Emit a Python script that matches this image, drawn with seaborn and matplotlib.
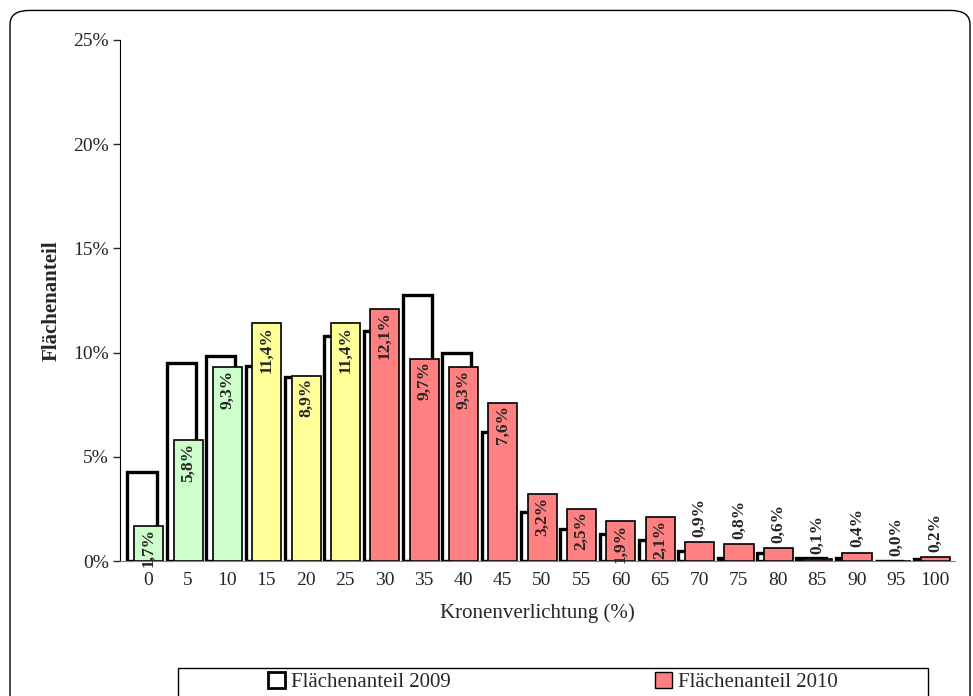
import numpy as np
import pandas as pd
import seaborn as sns
import matplotlib.pyplot as plt
from matplotlib.patches import FancyBboxPatch, Patch, Rectangle

categories = [str(v) for v in range(0, 101, 5)]
anteil_2009 = [4.25, 9.5, 9.85, 9.35, 8.85, 10.8, 11.05, 12.75, 10.0, 6.2, 2.35, 1.55,
               1.3, 1.0, 0.5, 0.15, 0.4, 0.15, 0.15, 0.0, 0.1]
anteil_2010 = [1.7, 5.8, 9.3, 11.4, 8.9, 11.4, 12.1, 9.7, 9.3, 7.6, 3.2, 2.5,
               1.9, 2.1, 0.9, 0.8, 0.6, 0.1, 0.4, 0.0, 0.2]
labels_2010 = ["1,7%", "5,8%", "9,3%", "11,4%", "8,9%", "11,4%", "12,1%", "9,7%", "9,3%",
               "7,6%", "3,2%", "2,5%", "1,9%", "2,1%", "0,9%", "0,8%", "0,6%", "0,1%",
               "0,4%", "0,0%", "0,2%"]

def stage_color(c):
    v = int(c)
    if v <= 10:
        return "#ccffcc"
    if v <= 25:
        return "#ffff99"
    return "#ff8080"

sns.set_style("white")
plt.rcParams['font.family'] = ['Liberation Serif', 'DejaVu Serif']

df = pd.DataFrame({"Klasse": categories, "y2009": anteil_2009, "y2010": anteil_2010})

fig = plt.figure(figsize=(9.73, 6.96), dpi=100)
ax = fig.add_axes([120 / 973, 1 - 561 / 696, 835 / 973, 521 / 696])

w = 0.74
sns.barplot(data=df, x="Klasse", y="y2009", color="white", edgecolor="black",
            linewidth=2.4, width=w, ax=ax, saturation=1)
n = len(categories)
for p in ax.patches[:n]:
    p.set_x(p.get_x() - 0.16)
sns.barplot(data=df, x="Klasse", y="y2010", hue="Klasse",
            palette=[stage_color(c) for c in categories], edgecolor="black",
            linewidth=1.2, width=w, ax=ax, saturation=1, legend=False)
bars10 = ax.patches[n:]
for p in bars10:
    p.set_x(p.get_x() + 0.01)

for p, lab, v in zip(bars10, labels_2010, anteil_2010):
    cx = p.get_x() + p.get_width() / 2
    if v >= 1.5:
        ax.text(cx, v - 0.12, lab, rotation=90, ha="center", va="top",
                fontsize=12.5, fontweight="bold")
    else:
        ax.text(cx, v + 0.25, lab, rotation=90, ha="center", va="bottom",
                fontsize=12.5, fontweight="bold")

ax.set_ylim(0, 25)
ax.set_xlim(-0.72, n - 0.5)
ax.set_yticks([0, 5, 10, 15, 20, 25])
ax.set_yticklabels([f"{t}%" for t in [0, 5, 10, 15, 20, 25]], fontsize=14)
ax.tick_params(axis="x", labelsize=14, length=0, pad=8)
ax.tick_params(axis="y", direction="out", length=5, width=1, left=True, pad=3)
ax.set_xlabel("Kronenverlichtung (%)", fontsize=15, labelpad=10)
ax.set_ylabel("Flächenanteil", fontsize=15, fontweight="bold", labelpad=8)
for s in ["top", "right"]:
    ax.spines[s].set_visible(False)
ax.spines["left"].set_color("black")
ax.spines["bottom"].set_color("#808080")

handles = [Patch(facecolor="white", edgecolor="black", linewidth=2),
           Patch(facecolor="#ff8080", edgecolor="black", linewidth=1)]
fig.legend(handles, ["Flächenanteil 2009", "Flächenanteil 2010"], ncol=2,
           loc="center", bbox_to_anchor=(553 / 973, 14 / 696),
           fontsize=15, frameon=False, columnspacing=9.8,
           handlelength=0.8, handleheight=0.8, handletextpad=0.3)
fig.patches.append(Rectangle((178 / 973, -0.02), 750 / 973, 28 / 696 + 0.02,
                             transform=fig.transFigure, facecolor="none",
                             edgecolor="black", linewidth=1))

frame = FancyBboxPatch((10 / 973, -0.05), 960 / 973, 1.035, transform=fig.transFigure,
                       boxstyle="round,pad=0,rounding_size=0.02", facecolor="none",
                       edgecolor="black", linewidth=1)
fig.patches.append(frame)

fig.savefig("out.png", dpi=100)
